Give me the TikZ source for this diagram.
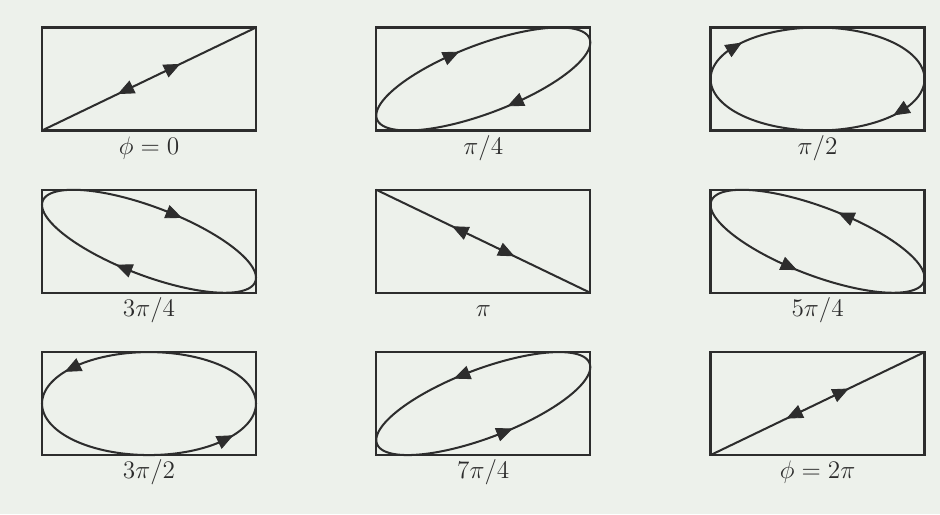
\documentclass[tikz,border=0pt]{standalone}
\usepackage{amsmath,amssymb}
\usepackage{xcolor}
\usetikzlibrary{arrows.meta, positioning}

\definecolor{paper}{RGB}{237,241,235}
\definecolor{ink}{RGB}{45,45,45}

\begin{document}
\begin{tikzpicture}[
  panel/.style={draw=ink, line width=1.3pt, minimum width=4.28cm, minimum height=2.06cm, inner sep=0pt},
  lbl/.style={font=\fontsize{13.5}{16}\selectfont, text=ink, inner sep=0pt, text height=1.6ex, text depth=0.3ex},
  trace/.style={draw=ink, line width=1.15pt},
  dirarrow/.style={-{Triangle[length=3.3mm, width=2.8mm]}, draw=ink, fill=ink, line width=0.5pt}
]
\useasboundingbox[fill=paper] (0,0) rectangle (18.8,-10.28);

% the nine frames
\node[panel] (p1) at (2.98,-1.58) {};
\node[panel, right=2.36cm of p1] (p2) {};
\node[panel, right=2.36cm of p2] (p3) {};
\node[panel, below=1.14cm of p1] (p4) {};
\node[panel, right=2.36cm of p4] (p5) {};
\node[panel, right=2.36cm of p5] (p6) {};
\node[panel, below=1.14cm of p4] (p7) {};
\node[panel, right=2.36cm of p7] (p8) {};
\node[panel, right=2.36cm of p8] (p9) {};

% phase labels
\node[lbl, below=0.2cm of p1] (l1) {$\phi = 0$};
\node[lbl, below=0.2cm of p2] (l2) {$\pi/4$};
\node[lbl, below=0.2cm of p3] (l3) {$\pi/2$};
\node[lbl, below=0.2cm of p4] (l4) {$3\pi/4$};
\node[lbl, below=0.2cm of p5] (l5) {$\pi$};
\node[lbl, below=0.2cm of p6] (l6) {$5\pi/4$};
\node[lbl, below=0.2cm of p7] (l7) {$3\pi/2$};
\node[lbl, below=0.2cm of p8] (l8) {$7\pi/4$};
\node[lbl, below=0.2cm of p9] (l9) {$\phi = 2\pi$};

% Lissajous traces: x = sin t, y = sin(t + phase), arrows at t0 and t0+180
\foreach \p/\ph/\ta in {p1/0/10, p2/45/-20, p3/90/-52, p4/135/11, p5/180/10,
                        p6/225/-18, p7/270/45, p8/315/9, p9/360/10}{
  \begin{scope}[shift={(\p.center)}, x=2.14cm, y=1.03cm]
    \draw[trace] plot[domain=0:360, samples=145] ({sin(\x)}, {sin(\x+\ph)});
    \foreach \t in {\ta, \ta+180}{
      \draw[dirarrow] ({sin(\t-6)}, {sin(\t-6+\ph)}) -- ({sin(\t+7)}, {sin(\t+7+\ph)});
    }
  \end{scope}
}
\end{tikzpicture}
\end{document}
